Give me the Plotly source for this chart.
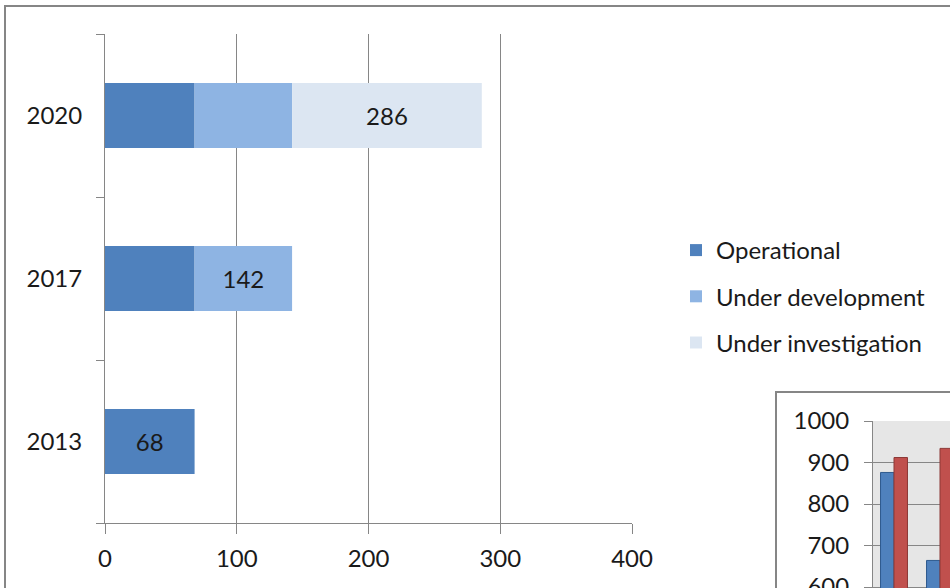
import plotly.graph_objects as go

W, H = 950, 588

# ---- data ----
years = ["2013", "2017", "2020"]
operational = [68, 68, 68]
under_development = [0, 74, 74]
under_investigation = [0, 0, 144]
series_names = ["Operational", "Under development", "Under investigation"]
series_colors = ["#4F81BD", "#8EB4E3", "#DCE6F2"]
x_ticks = [0, 100, 200, 300, 400]

# inset (partially visible) chart
inset_groups = [1, 2]
inset_blue = [876, 664]
inset_red = [912, 934]
inset_ticks = [600, 700, 800, 900, 1000]

FONT = "Lato"
FS = 24
GRID = "#868686"
TXT = "#1a1a1a"


def px(x):
    return x / W


def py(y):
    return 1 - y / H


series = [operational, under_development, under_investigation]
fig = go.Figure()
base = [0] * len(years)
for k, (name, vals, col) in enumerate(zip(series_names, series, series_colors)):
    totals = [b + v for b, v in zip(base, vals)]
    texts = []
    for i in range(len(years)):
        later = sum(s[i] for s in series[k + 1:])
        texts.append(str(totals[i]) if vals[i] > 0 and later == 0 else "")
    fig.add_trace(go.Bar(
        y=years, x=vals, base=base, orientation="h", name=name,
        marker=dict(color=col, line=dict(width=0)), width=0.4,
        text=texts, textposition="inside", insidetextanchor="middle",
        textfont=dict(family=FONT, size=FS, color=TXT),
        legendgroup=name, xaxis="x", yaxis="y",
        hoverinfo="skip",
    ))
    base = totals

bw = 0.293
fig.add_trace(go.Bar(x=inset_groups, y=inset_blue, offset=-bw, width=bw,
                     marker=dict(color="#4F81BD", line=dict(color="#2E5A8E", width=1)),
                     xaxis="x2", yaxis="y2", showlegend=False, hoverinfo="skip"))
fig.add_trace(go.Bar(x=inset_groups, y=inset_red, offset=0, width=bw,
                     marker=dict(color="#C0504D", line=dict(color="#8C3836", width=1)),
                     xaxis="x2", yaxis="y2", showlegend=False, hoverinfo="skip"))

x2_start = 1 - 21 / 46
fig.update_layout(
    width=W, height=H,
    autosize=False,
    margin=dict(l=0, r=0, t=0, b=0, pad=0, autoexpand=False),
    paper_bgcolor="white", plot_bgcolor="rgba(0,0,0,0)",
    barmode="overlay",
    font=dict(family=FONT, size=FS, color=TXT),
    xaxis=dict(domain=[px(105), px(632)], range=[0, 400], tickvals=x_ticks,
               showgrid=True, gridcolor=GRID, gridwidth=1, zeroline=False,
               showline=True, linecolor=GRID, linewidth=1,
               ticks="outside", ticklen=10, tickcolor=GRID,
               tickfont=dict(family=FONT, size=FS, color=TXT),
               ticklabelstandoff=4, anchor="y", fixedrange=True, automargin=False),
    yaxis=dict(domain=[py(523), py(34)], type="category", categoryorder="array",
               categoryarray=years, range=[-0.5, 2.5],
               showgrid=False, zeroline=False, showline=True, linecolor=GRID,
               ticks="outside", tickson="boundaries", ticklen=8, tickcolor=GRID,
               tickfont=dict(family=FONT, size=FS, color=TXT),
               ticklabelstandoff=17, anchor="x", fixedrange=True, automargin=False),
    xaxis2=dict(domain=[px(873), 1], range=[x2_start, x2_start + 77 / 46],
                showticklabels=False, showgrid=False, zeroline=False,
                showline=False, anchor="y2", fixedrange=True, automargin=False),
    yaxis2=dict(domain=[0, py(421)], range=[600 - 100 / 41.5, 1000],
                tickvals=inset_ticks, showgrid=True, gridcolor=GRID, gridwidth=1,
                zeroline=False, showline=True, linecolor=GRID,
                ticks="outside", ticklen=8, tickcolor=GRID,
                tickfont=dict(family=FONT, size=FS, color=TXT),
                ticklabeloverflow="allow",
                ticklabelstandoff=10, anchor="x2", fixedrange=True, automargin=False),
    legend=dict(x=px(676), y=py(228), xanchor="left", yanchor="top",
                traceorder="grouped", tracegroupgap=12,
                font=dict(family=FONT, size=FS, color=TXT),
                bgcolor="rgba(0,0,0,0)", itemwidth=30),
    showlegend=True,
    shapes=[
        dict(type="rect", xref="paper", yref="paper",
             x0=px(5), x1=1.2, y0=-0.2, y1=py(6),
             line=dict(color=GRID, width=2), fillcolor="rgba(0,0,0,0)", layer="above"),
        dict(type="rect", xref="paper", yref="paper",
             x0=px(776), x1=1.2, y0=-0.2, y1=py(392),
             line=dict(color=GRID, width=2), fillcolor="white", layer="below"),
        dict(type="rect", xref="x2 domain", yref="y2 domain",
             x0=0, x1=1.2, y0=0, y1=1,
             line=dict(width=0), fillcolor="#E6E6E6", layer="below"),
    ],
)

fig.write_html(
    "out.html",
    config={"displayModeBar": False},
    post_script="document.body.style.margin='0';document.body.style.overflow='hidden';",
)
